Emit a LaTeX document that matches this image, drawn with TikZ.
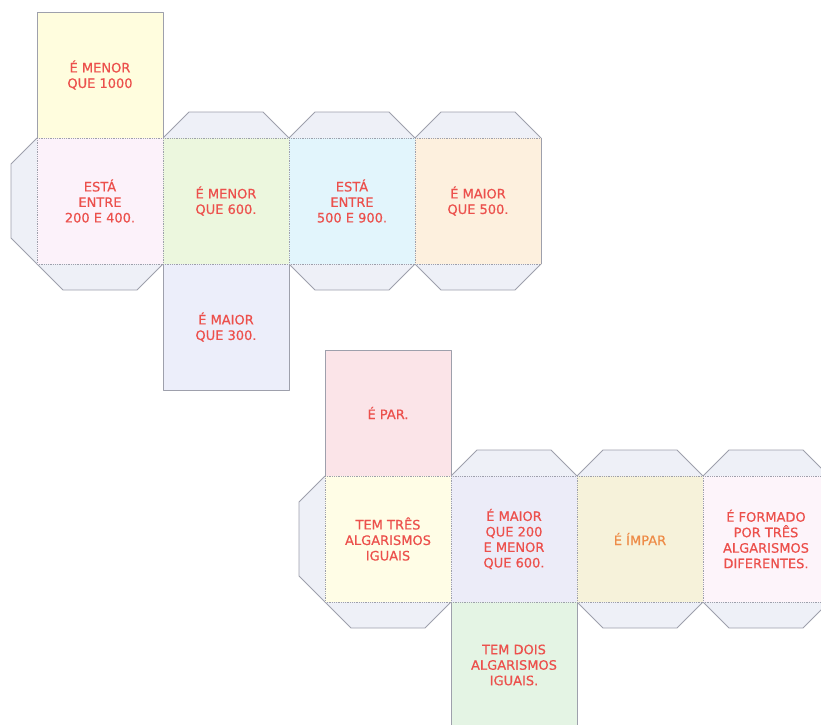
\documentclass[tikz,border=0pt]{standalone}
\usepackage{fontspec}
\newfontfamily\netfont[FakeBold=0.6]{DejaVu Sans}
\definecolor{ink}{RGB}{236,80,76}
\definecolor{impar}{RGB}{238,140,72}
\definecolor{edge}{RGB}{158,160,172}
\definecolor{flapfill}{RGB}{238,240,247}
\definecolor{yelA}{RGB}{255,253,222}\definecolor{pinkA}{RGB}{252,242,250}\definecolor{greenA}{RGB}{236,247,222}
\definecolor{cyanA}{RGB}{226,245,252}\definecolor{peachA}{RGB}{253,240,222}\definecolor{lavA}{RGB}{236,238,250}
\definecolor{pinkB}{RGB}{251,228,232}\definecolor{yelB}{RGB}{255,253,230}\definecolor{lavB}{RGB}{236,236,248}
\definecolor{khakiB}{RGB}{246,242,218}\definecolor{roseB}{RGB}{253,244,250}\definecolor{greenB}{RGB}{228,244,228}

\begin{document}
\begin{tikzpicture}[x=1pt,y=-1pt,line join=round,every node/.style={font=\netfont\fontsize{13}{15.5}\selectfont,text=ink,align=center}]
\tikzset{flap/.style={fill=flapfill,draw=edge,line width=0.9pt},fold/.style={draw=edge,densely dotted,line width=0.8pt},cut/.style={draw=edge,line width=0.9pt}}
\useasboundingbox (0,0) rectangle (821,724);
\clip (0,0) rectangle (821,724);
% flaps of both nets
\foreach \ox/\oy in {37/138,325/476}{
  \begin{scope}[shift={(\ox,\oy)}]
  \draw[flap] (0,0)--(-26,26)--(-26,100)--(0,126);
  \foreach \k in {1,2,3} \draw[flap] (\k*126,0)--++(26,-26)--++(74,0)--++(26,26);
  \foreach \k in {0,2,3} \draw[flap] (\k*126,126)--++(26,26)--++(74,0)--++(26,-26);
  \end{scope}}
% faces
\foreach \nm/\x/\y/\col/\txt in {
  menorMil/37/12/yelA/{É MENOR\\QUE 1000},
  entre200/37/138/pinkA/{ESTÁ\\ENTRE\\200 E 400.},
  menor600/163/138/greenA/{É MENOR\\QUE 600.},
  entre500/289/138/cyanA/{ESTÁ\\ENTRE\\500 E 900.},
  maior500/415/138/peachA/{É MAIOR\\QUE 500.},
  maior300/163/264/lavA/{É MAIOR\\QUE 300.},
  par/325/350/pinkB/{É PAR.},
  tresIguais/325/476/yelB/{TEM TRÊS\\ALGARISMOS\\IGUAIS},
  entre200b/451/476/lavB/{É MAIOR\\QUE 200\\E MENOR\\QUE 600.},
  impar/577/476/khakiB/{\color{impar}É ÍMPAR},
  diferentes/703/476/roseB/{É FORMADO\\POR TRÊS\\ALGARISMOS\\DIFERENTES.},
  doisIguais/451/602/greenB/{TEM DOIS\\ALGARISMOS\\IGUAIS.}}{
  \fill[\col] (\x,\y) rectangle ++(126,126);
  \node (\nm) at (\x+63,\y+63) {\txt};}
% cut and fold lines
\foreach \ox/\oy in {37/138,325/476}{
  \begin{scope}[shift={(\ox,\oy)}]
  \draw[cut] (0,0)--(0,-126)--(126,-126)--(126,0);
  \draw[cut] (126,126)--(126,252)--(252,252)--(252,126);
  \draw[cut] (504,0)--(504,126);
  \draw[fold] (0,0)--(504,0) (0,126)--(504,126);
  \foreach \k in {0,...,3} \draw[fold] (\k*126,0)--++(0,126);
  \end{scope}}
\end{tikzpicture}
\end{document}
